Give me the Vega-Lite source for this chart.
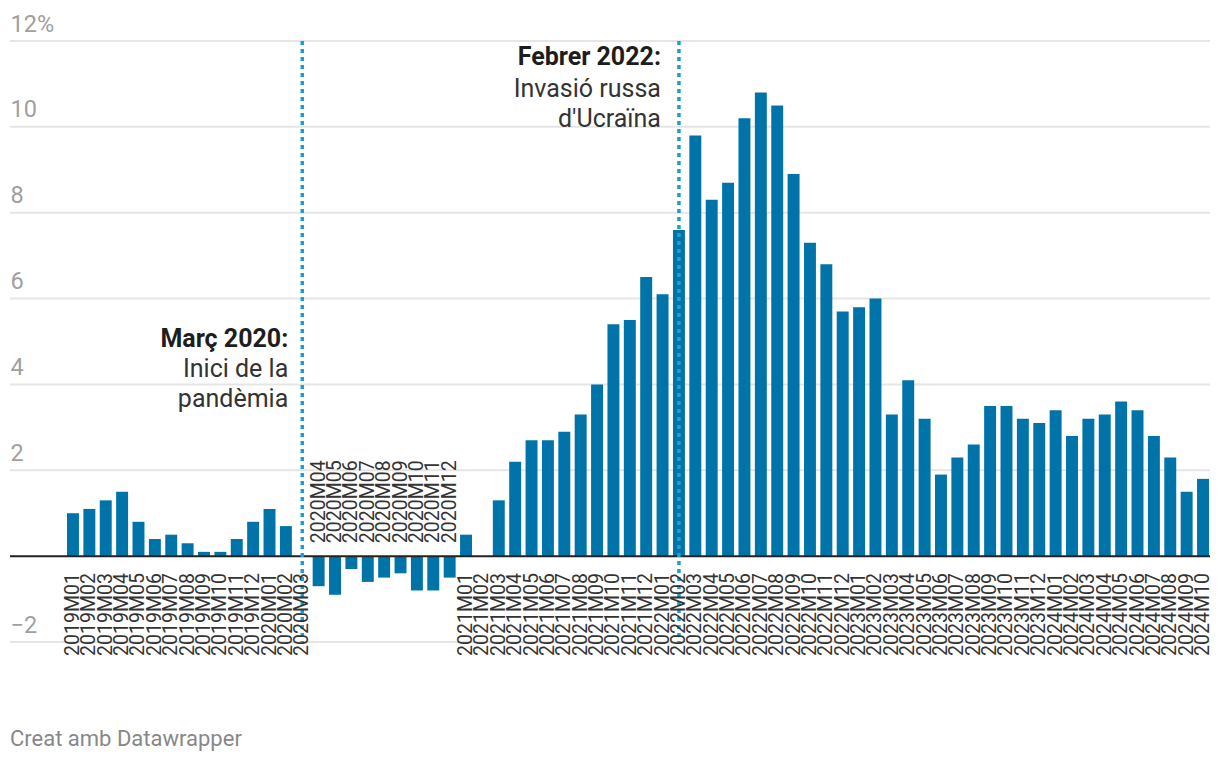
{
  "$schema": "https://vega.github.io/schema/vega-lite/v6.json",
  "autosize": "none",
  "width": 1200,
  "height": 601,
  "padding": {"left": 10, "top": 41, "right": 10, "bottom": 118},
  "background": "white",
  "config": {"view": {"stroke": null}, "font": "Roboto"},
  "title": {
    "text": "Creat amb Datawrapper",
    "orient": "bottom",
    "anchor": "start",
    "frame": "group",
    "font": "Roboto",
    "fontSize": 22,
    "fontWeight": "normal",
    "color": "#888888",
    "baseline": "alphabetic",
    "offset": 90
  },
  "datasets": {
    "cpi": [
      {"m": "2019M01", "v": 1.0}, {"m": "2019M02", "v": 1.1}, {"m": "2019M03", "v": 1.3}, {"m": "2019M04", "v": 1.5},
      {"m": "2019M05", "v": 0.8}, {"m": "2019M06", "v": 0.4}, {"m": "2019M07", "v": 0.5}, {"m": "2019M08", "v": 0.3},
      {"m": "2019M09", "v": 0.1}, {"m": "2019M10", "v": 0.1}, {"m": "2019M11", "v": 0.4}, {"m": "2019M12", "v": 0.8},
      {"m": "2020M01", "v": 1.1}, {"m": "2020M02", "v": 0.7}, {"m": "2020M03", "v": 0.0}, {"m": "2020M04", "v": -0.7},
      {"m": "2020M05", "v": -0.9}, {"m": "2020M06", "v": -0.3}, {"m": "2020M07", "v": -0.6}, {"m": "2020M08", "v": -0.5},
      {"m": "2020M09", "v": -0.4}, {"m": "2020M10", "v": -0.8}, {"m": "2020M11", "v": -0.8}, {"m": "2020M12", "v": -0.5},
      {"m": "2021M01", "v": 0.5}, {"m": "2021M02", "v": 0.0}, {"m": "2021M03", "v": 1.3}, {"m": "2021M04", "v": 2.2},
      {"m": "2021M05", "v": 2.7}, {"m": "2021M06", "v": 2.7}, {"m": "2021M07", "v": 2.9}, {"m": "2021M08", "v": 3.3},
      {"m": "2021M09", "v": 4.0}, {"m": "2021M10", "v": 5.4}, {"m": "2021M11", "v": 5.5}, {"m": "2021M12", "v": 6.5},
      {"m": "2022M01", "v": 6.1}, {"m": "2022M02", "v": 7.6}, {"m": "2022M03", "v": 9.8}, {"m": "2022M04", "v": 8.3},
      {"m": "2022M05", "v": 8.7}, {"m": "2022M06", "v": 10.2}, {"m": "2022M07", "v": 10.8}, {"m": "2022M08", "v": 10.5},
      {"m": "2022M09", "v": 8.9}, {"m": "2022M10", "v": 7.3}, {"m": "2022M11", "v": 6.8}, {"m": "2022M12", "v": 5.7},
      {"m": "2023M01", "v": 5.8}, {"m": "2023M02", "v": 6.0}, {"m": "2023M03", "v": 3.3}, {"m": "2023M04", "v": 4.1},
      {"m": "2023M05", "v": 3.2}, {"m": "2023M06", "v": 1.9}, {"m": "2023M07", "v": 2.3}, {"m": "2023M08", "v": 2.6},
      {"m": "2023M09", "v": 3.5}, {"m": "2023M10", "v": 3.5}, {"m": "2023M11", "v": 3.2}, {"m": "2023M12", "v": 3.1},
      {"m": "2024M01", "v": 3.4}, {"m": "2024M02", "v": 2.8}, {"m": "2024M03", "v": 3.2}, {"m": "2024M04", "v": 3.3},
      {"m": "2024M05", "v": 3.6}, {"m": "2024M06", "v": 3.4}, {"m": "2024M07", "v": 2.8}, {"m": "2024M08", "v": 2.3},
      {"m": "2024M09", "v": 1.5}, {"m": "2024M10", "v": 1.8}
    ],
    "notes": [
      {"m": "2020M03", "v": 4.87, "title": "Març 2020:", "body": "Inici de la\npandèmia"},
      {"m": "2022M02", "v": 11.44, "title": "Febrer 2022:", "body": "Invasió russa\nd'Ucraïna"}
    ],
    "grid": [
      {"g": -2}, {"g": 2}, {"g": 4}, {"g": 6}, {"g": 8}, {"g": 10}, {"g": 12}
    ]
  },
  "layer": [
    {
      "data": {"name": "grid"},
      "mark": {"type": "rule", "color": "#e5e5e5", "strokeWidth": 2},
      "encoding": {"y": {"field": "g", "type": "quantitative"}}
    },
    {
      "data": {"name": "cpi"},
      "mark": {"type": "bar", "color": "#0074a8"},
      "encoding": {
        "x": {"field": "m", "type": "ordinal", "axis": null,
              "scale": {"paddingInner": 0.27, "paddingOuter": 0, "range": [57, 1199]}},
        "y": {"field": "v", "type": "quantitative",
              "scale": {"domain": [-2, 12], "nice": false},
              "axis": {
                "values": [-2, 0, 2, 4, 6, 8, 10, 12],
                "title": null,
                "grid": false,
                "domain": false,
                "ticks": false,
                "labelAlign": "left",
                "labelBaseline": "alphabetic",
                "labelPadding": 0,
                "labelOffset": -10,
                "labelFontSize": 23.5,
                "labelFont": "Roboto",
                "labelColor": "#a0a0a0",
                "labelExpr": "datum.value == 12 ? '12%' : (datum.value == 0 ? '' : replace(datum.label, '-', '−'))"
              }}
      }
    },
    {
      "data": {"values": [{}]},
      "mark": {"type": "rule", "color": "#222222", "strokeWidth": 2},
      "encoding": {"y": {"datum": 0}}
    },
    {
      "data": {"name": "notes"},
      "mark": {"type": "rule", "color": "#1ca0d2", "strokeWidth": 3.5, "strokeDash": [4, 4]},
      "encoding": {"x": {"field": "m", "type": "ordinal"}}
    },
    {
      "data": {"name": "cpi"},
      "transform": [{"filter": "datum.v >= 0"}],
      "mark": {"type": "text", "angle": 270, "align": "right", "baseline": "middle", "dx": -17, "fontSize": 19.5, "color": "#333333", "font": "Roboto"},
      "encoding": {
        "x": {"field": "m", "type": "ordinal"},
        "y": {"datum": 0},
        "text": {"field": "m"}
      }
    },
    {
      "data": {"name": "cpi"},
      "transform": [{"filter": "datum.v < 0"}],
      "mark": {"type": "text", "angle": 270, "align": "left", "baseline": "middle", "dx": 13, "fontSize": 19.5, "color": "#333333", "font": "Roboto"},
      "encoding": {
        "x": {"field": "m", "type": "ordinal"},
        "y": {"datum": 0},
        "text": {"field": "m"}
      }
    },
    {
      "data": {"name": "notes"},
      "transform": [{"filter": "datum.m == '2020M03'"}],
      "mark": {"type": "text", "align": "right", "baseline": "alphabetic", "dx": -14, "fontSize": 25, "fontWeight": "bold", "color": "#1d1d1d", "font": "Roboto"},
      "encoding": {
        "x": {"field": "m", "type": "ordinal"},
        "y": {"field": "v", "type": "quantitative"},
        "text": {"field": "title"}
      }
    },
    {
      "data": {"name": "notes"},
      "transform": [{"filter": "datum.m == '2020M03'"}],
      "mark": {"type": "text", "align": "right", "baseline": "alphabetic", "dx": -14, "dy": 30, "lineBreak": "\n", "lineHeight": 30, "fontSize": 25, "color": "#333333", "font": "Roboto"},
      "encoding": {
        "x": {"field": "m", "type": "ordinal"},
        "y": {"field": "v", "type": "quantitative"},
        "text": {"field": "body"}
      }
    },
    {
      "data": {"name": "notes"},
      "transform": [{"filter": "datum.m == '2022M02'"}],
      "mark": {"type": "text", "align": "right", "baseline": "alphabetic", "dx": -18, "fontSize": 25, "fontWeight": "bold", "color": "#1d1d1d", "font": "Roboto"},
      "encoding": {
        "x": {"field": "m", "type": "ordinal"},
        "y": {"field": "v", "type": "quantitative"},
        "text": {"field": "title"}
      }
    },
    {
      "data": {"name": "notes"},
      "transform": [{"filter": "datum.m == '2022M02'"}],
      "mark": {"type": "text", "align": "right", "baseline": "alphabetic", "dx": -18, "dy": 32, "lineBreak": "\n", "lineHeight": 30, "fontSize": 25, "color": "#333333", "font": "Roboto"},
      "encoding": {
        "x": {"field": "m", "type": "ordinal"},
        "y": {"field": "v", "type": "quantitative"},
        "text": {"field": "body"}
      }
    }
  ]
}
